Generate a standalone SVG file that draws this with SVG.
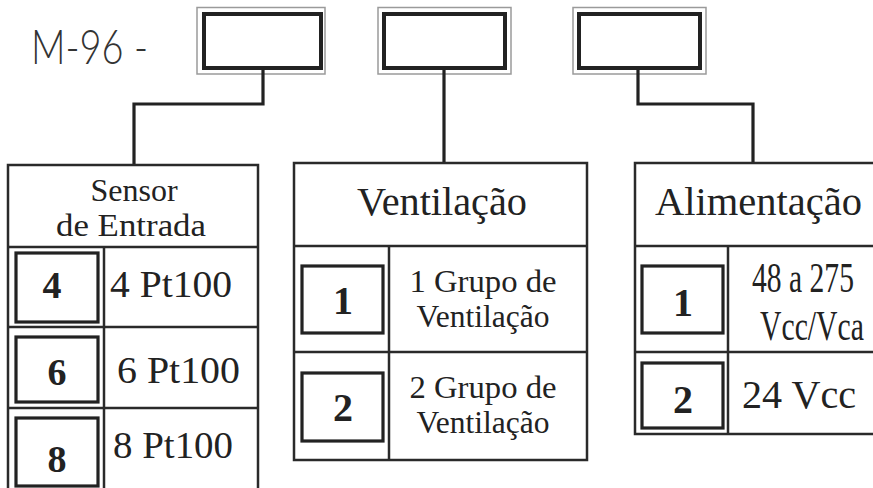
<svg xmlns="http://www.w3.org/2000/svg" width="873" height="488" viewBox="0 0 873 488">
<style>
.bg{fill:#fff}
.tbl{fill:none;stroke:#2a2a2a;stroke-width:2.5}
.sq{fill:#fff;stroke:#222;stroke-width:3.2}
.outer{fill:none;stroke:#9a9a9a;stroke-width:1.5}
.inner{fill:#fff;stroke:#222;stroke-width:4}
.conn{fill:none;stroke:#222;stroke-width:3.2}
.t{font-family:"Liberation Serif","Times New Roman",serif;fill:#222}
.b{font-weight:bold}
.m{font-family:Lato,"DejaVu Sans",sans-serif;font-weight:300;fill:#333}
</style>
<rect class="bg" x="0" y="0" width="873" height="488"/>
<g id="title">
<text class="m" x="31" y="64" font-size="47" textLength="117" lengthAdjust="spacingAndGlyphs">M-96 -</text>
</g>
<g id="code1"><rect class="outer" x="197" y="7.5" width="128" height="66.5"/><rect class="inner" x="204" y="14" width="117" height="54"/></g>
<g id="code2"><rect class="outer" x="378" y="7.5" width="133" height="66.5"/><rect class="inner" x="384" y="14" width="121" height="54"/></g>
<g id="code3"><rect class="outer" x="573" y="7.5" width="133" height="66.5"/><rect class="inner" x="579" y="14" width="121" height="54"/></g>
<g id="connectors">
<polyline class="conn" points="263,70 263,104 134,104 134,165"/>
<polyline class="conn" points="444,70 444,163"/>
<polyline class="conn" points="638,70 638,104 753,104 753,163"/>
</g>
<g id="sensor">
<rect class="tbl" x="8" y="165" width="250" height="340"/>
<line class="tbl" x1="8" y1="247" x2="258" y2="247"/>
<line class="tbl" x1="8" y1="327" x2="258" y2="327"/>
<line class="tbl" x1="8" y1="408" x2="258" y2="408"/>
<line class="tbl" x1="104" y1="247" x2="104" y2="490"/>
<text class="t" x="134" y="201" font-size="32" text-anchor="middle">Sensor</text>
<text class="t" x="131" y="236" font-size="32" text-anchor="middle" textLength="150" lengthAdjust="spacingAndGlyphs">de Entrada</text>
<rect class="sq" x="16" y="253" width="82" height="69"/>
<rect class="sq" x="16" y="337" width="82" height="65"/>
<rect class="sq" x="16" y="418" width="82" height="68"/>
<text class="t b" x="52" y="298" font-size="38" text-anchor="middle">4</text>
<text class="t b" x="57" y="385" font-size="38" text-anchor="middle">6</text>
<text class="t b" x="57" y="472" font-size="38" text-anchor="middle">8</text>
<text class="t" x="110" y="297" font-size="37" textLength="122" lengthAdjust="spacingAndGlyphs">4 Pt100</text>
<text class="t" x="117" y="383" font-size="37" textLength="123" lengthAdjust="spacingAndGlyphs">6 Pt100</text>
<text class="t" x="113" y="458" font-size="37" textLength="120" lengthAdjust="spacingAndGlyphs">8 Pt100</text>
</g>
<g id="ventilacao">
<rect class="tbl" x="294" y="163" width="293" height="297"/>
<line class="tbl" x1="294" y1="246" x2="587" y2="246"/>
<line class="tbl" x1="294" y1="352" x2="587" y2="352"/>
<line class="tbl" x1="389" y1="246" x2="389" y2="460"/>
<text class="t" x="442" y="215" font-size="40" text-anchor="middle" textLength="170" lengthAdjust="spacingAndGlyphs">Ventilação</text>
<rect class="sq" x="302" y="266" width="81" height="67"/>
<rect class="sq" x="302" y="373" width="81" height="68"/>
<text class="t b" x="343" y="314" font-size="40" text-anchor="middle">1</text>
<text class="t b" x="343" y="421" font-size="40" text-anchor="middle">2</text>
<text class="t" x="483" y="292" font-size="32" text-anchor="middle" textLength="147" lengthAdjust="spacingAndGlyphs">1 Grupo de</text>
<text class="t" x="483" y="327" font-size="32" text-anchor="middle" textLength="133" lengthAdjust="spacingAndGlyphs">Ventilação</text>
<text class="t" x="483" y="398" font-size="32" text-anchor="middle" textLength="147" lengthAdjust="spacingAndGlyphs">2 Grupo de</text>
<text class="t" x="483" y="433" font-size="32" text-anchor="middle" textLength="133" lengthAdjust="spacingAndGlyphs">Ventilação</text>
</g>
<g id="alimentacao">
<polyline class="tbl" points="873,163 635,163 635,434 873,434"/>
<line class="tbl" x1="635" y1="246" x2="873" y2="246"/>
<line class="tbl" x1="635" y1="352" x2="873" y2="352"/>
<line class="tbl" x1="728" y1="246" x2="728" y2="434"/>
<text class="t" x="655" y="215" font-size="41" textLength="207" lengthAdjust="spacingAndGlyphs">Alimentação</text>
<rect class="sq" x="642" y="266" width="81" height="67"/>
<rect class="sq" x="642" y="363" width="81" height="65"/>
<text class="t b" x="683" y="316" font-size="40" text-anchor="middle">1</text>
<text class="t b" x="683" y="413" font-size="40" text-anchor="middle">2</text>
<text class="t" transform="translate(752,292) scale(0.705,1)" x="0" y="0" font-size="42">48 a 275</text>
<text class="t" transform="translate(760,340) scale(0.708,1)" x="0" y="0" font-size="42">Vcc/Vca</text>
<text class="t" x="742" y="408" font-size="41" textLength="114" lengthAdjust="spacingAndGlyphs">24 Vcc</text>
</g>
</svg>
